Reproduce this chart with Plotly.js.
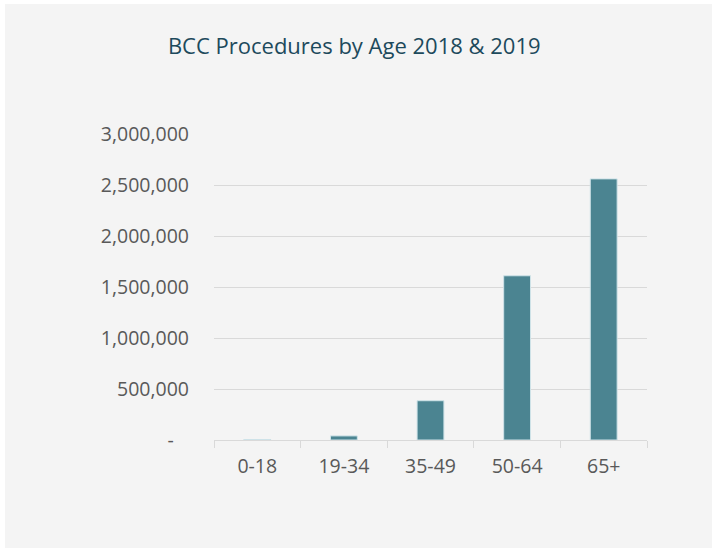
<!DOCTYPE html>
<html>
<head>
<meta charset="utf-8">
<script src="https://cdn.plot.ly/plotly-3.0.1.min.js"></script>
<style>
  html, body { margin: 0; padding: 0; background: #ffffff; width: 712px; height: 548px; overflow: hidden; }
  #chart { position: absolute; left: 5px; top: 4px; width: 707px; height: 544px; }
</style>
</head>
<body>
<div id="chart"></div>
<script>
const categories = ['0-18', '19-34', '35-49', '50-64', '65+'];
const procedures = [5000, 40000, 385000, 1610000, 2560000];
const yTickVals = [0, 500000, 1000000, 1500000, 2000000, 2500000, 3000000];
const yTickText = ['-\u00a0\u00a0\u00a0', '500,000', '1,000,000', '1,500,000', '2,000,000', '2,500,000', '3,000,000'];

const trace = {
  type: 'bar',
  x: categories,
  y: procedures,
  marker: { color: '#4b8491', line: { color: '#cfe3e8', width: 1 } },
  hoverinfo: 'none'
};

const layout = {
  width: 707,
  height: 544,
  paper_bgcolor: '#f4f4f4',
  plot_bgcolor: '#f4f4f4',
  margin: { l: 209, r: 65, t: 130, b: 108 },
  font: { family: '"Open Sans", "Noto Sans", sans-serif', color: '#595959', size: 19.5 },
  title: {
    text: 'BCC Procedures by Age 2018 & 2019',
    font: { family: '"Open Sans", "Noto Sans", sans-serif', size: 22, color: '#1d4a5c' },
    xref: 'container', x: 0.494, xanchor: 'center',
    yref: 'container', y: 0.922, yanchor: 'middle'
  },
  bargap: 0.69,
  showlegend: false,
  xaxis: {
    type: 'category',
    showline: true, linecolor: '#d9d9d9', linewidth: 1,
    ticks: 'outside', tickson: 'boundaries', ticklen: 7, tickcolor: '#d9d9d9', tickwidth: 1,
    showgrid: false,
    tickfont: { size: 19.5, color: '#595959' },
    ticklabelstandoff: 9
  },
  yaxis: {
    range: [0, 3000000],
    tickvals: yTickVals,
    ticktext: yTickText,
    showgrid: true, gridcolor: '#d9d9d9', gridwidth: 1,
    zeroline: false, showline: false, ticks: '',
    tickfont: { size: 19.5, color: '#595959' },
    ticklabelstandoff: 24
  }
};

Plotly.newPlot('chart', [trace], layout, { staticPlot: true, displayModeBar: false });
</script>
</body>
</html>
